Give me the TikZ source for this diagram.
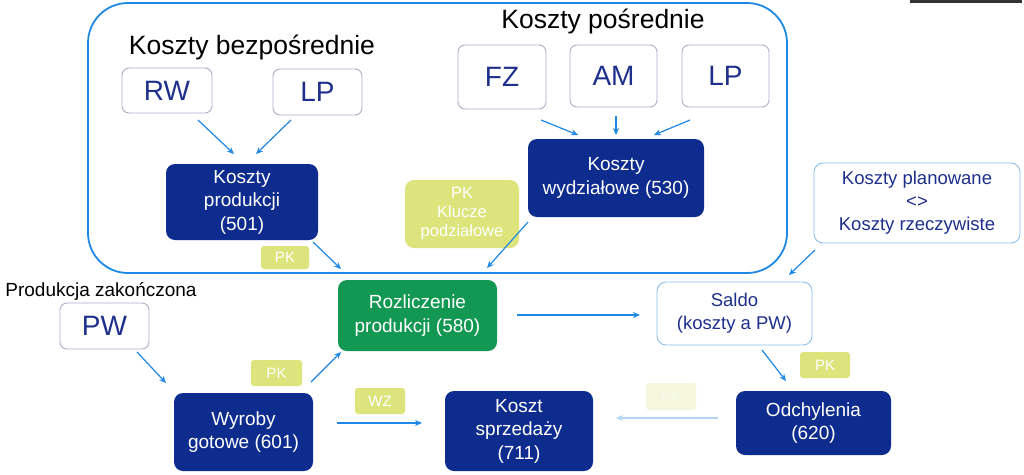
\documentclass[tikz,border=0pt]{standalone}
\usepackage{fontspec}
\setmainfont{Liberation Sans}
\usetikzlibrary{arrows.meta}
\definecolor{navy}{RGB}{14,44,142}
\definecolor{navytext}{RGB}{30,48,140}
\definecolor{green580}{RGB}{18,152,82}
\definecolor{ylw}{RGB}{221,228,124}
\definecolor{ylwfade}{RGB}{244,247,220}
\definecolor{lineblue}{RGB}{30,136,229}
\definecolor{fadeblue}{RGB}{180,212,242}
\definecolor{boxgrey}{RGB}{170,174,200}
\definecolor{lightborder}{RGB}{140,192,236}
\tikzset{
  letterbox/.style={draw=boxgrey, line width=0.9pt, rounded corners=7pt, fill=white, text=navytext,
    font=\fontsize{28}{30}\selectfont, inner sep=0pt},
  navybox/.style={fill=navy, rounded corners=9pt, text=white, align=center,
    font=\fontsize{19}{23.5}\selectfont, inner sep=0pt},
  greenbox/.style={fill=green580, rounded corners=9pt, text=white, align=center,
    font=\fontsize{19}{24}\selectfont, inner sep=0pt},
  whitebox/.style={draw=lightborder, line width=0.9pt, fill=white, rounded corners=9pt, text=navytext, align=center,
    font=\fontsize{18.5}{23}\selectfont, inner sep=0pt},
  tag/.style={fill=ylw, rounded corners=3pt, text=white, align=center,
    font=\fontsize{15}{18}\selectfont, inner sep=0pt},
  title/.style={text=black, inner sep=0pt},
  arr/.style={draw=lineblue, line width=1.2pt, -{Stealth[length=7pt,width=6pt]}},
}
\begin{document}
\begin{tikzpicture}[x=1pt,y=-1pt]
\useasboundingbox (0,0) rectangle (1024,474);
\fill[white] (0,0) rectangle (1024,474);
% top-right dark bar (screen artefact)
\fill[black!80] (910,0) rectangle (1022,3);
% big group frame
\draw[lineblue, line width=1.8pt, rounded corners=40pt] (88,3) rectangle (787,273);

\node[title, font=\fontsize{26.5}{28}\selectfont] (tbez) at (252,47) {Koszty bezpośrednie};
\node[title, font=\fontsize{26.5}{28}\selectfont] (tpos) at (603,21) {Koszty pośrednie};
\node[title, font=\fontsize{19}{21}\selectfont] (tprod) at (101,291) {Produkcja zakończona};

\node[letterbox, minimum width=90pt, minimum height=45pt] (rw) at (167,90.5) {RW};
\node[letterbox, minimum width=89pt, minimum height=46pt] (lp) at (317.5,92) {LP};
\node[letterbox, minimum width=88pt, minimum height=64pt] (fz) at (502,77) {FZ};
\node[letterbox, minimum width=87pt, minimum height=62pt] (am) at (613.5,76) {AM};
\node[letterbox, minimum width=87pt, minimum height=62pt] (lp2) at (725.5,76) {LP};
\node[letterbox, minimum width=89pt, minimum height=46pt] (pw) at (104.5,326) {PW};

\node[navybox, minimum width=152pt, minimum height=76pt] (k501) at (242,202) {Koszty\\produkcji\\(501)};
\node[navybox, minimum width=176pt, minimum height=78pt] (k530) at (616,178) {Koszty\\wydziałowe (530)};
\node[greenbox, minimum width=159pt, minimum height=71pt] (k580) at (417.5,315.5) {Rozliczenie\\produkcji (580)};
\node[navybox, minimum width=139pt, minimum height=78pt] (k601) at (243.5,432) {Wyroby\\gotowe (601)};
\node[navybox, minimum width=148pt, minimum height=80pt] (k711) at (519,431) {Koszt\\sprzedaży\\(711)};
\node[navybox, minimum width=155pt, minimum height=64pt] (k620) at (813.5,423) {Odchylenia\\(620)};

\node[whitebox, minimum width=206pt, minimum height=80pt] (plan) at (917,203) {Koszty planowane\\<>\\Koszty rzeczywiste};
\node[whitebox, minimum width=155pt, minimum height=63pt] (saldo) at (734.5,313.5) {Saldo\\(koszty a PW)};

\node[tag, minimum width=114pt, minimum height=68pt, rounded corners=9pt, font=\fontsize{16.5}{19}\selectfont] (klucze) at (462,214) {PK\\Klucze\\podziałowe};
\node[tag, minimum width=48pt, minimum height=23pt] (pk1) at (285,257.5) {PK};
\node[tag, minimum width=51pt, minimum height=26pt] (pk2) at (276.5,373) {PK};
\node[tag, minimum width=50pt, minimum height=26pt] (wz) at (380,401) {WZ};
\node[tag, minimum width=50pt, minimum height=26pt] (pk3) at (825,365) {PK};
\node[tag, fill=ylwfade, text=ylwfade!60!white, minimum width=50pt, minimum height=27pt] (pk4) at (671,396.5) {PK};

% connector end points
\coordinate (a1s) at (198,120); \coordinate (a1e) at (234,154);
\coordinate (a2s) at (291,120); \coordinate (a2e) at (256,154);
\coordinate (a3s) at (541,120); \coordinate (a3e) at (578,135);
\coordinate (a4s) at (616,116); \coordinate (a4e) at (616,135);
\coordinate (a5s) at (690,120); \coordinate (a5e) at (654,135);
\coordinate (a6s) at (313,242); \coordinate (a6e) at (341,269);
\coordinate (a7s) at (528,222); \coordinate (a7e) at (487,268);
\coordinate (a8s) at (815,250); \coordinate (a8e) at (789,275);
\coordinate (a9s) at (517,315); \coordinate (a9e) at (640,315);
\coordinate (a10s) at (762,350); \coordinate (a10e) at (786,381);
\coordinate (a11s) at (718,418); \coordinate (a11e) at (616,418);
\coordinate (a12s) at (137,352); \coordinate (a12e) at (166,383);
\coordinate (a13s) at (311,382); \coordinate (a13e) at (341,352);
\coordinate (a14s) at (337,423); \coordinate (a14e) at (422,423);

\draw[arr] (a1s) -- (a1e);
\draw[arr] (a2s) -- (a2e);
\draw[arr] (a3s) -- (a3e);
\draw[arr] (a4s) -- (a4e);
\draw[arr] (a5s) -- (a5e);
\draw[arr] (a6s) -- (a6e);
\draw[arr] (a7s) -- (a7e);
\draw[arr] (a8s) -- (a8e);
\draw[arr] (a9s) -- (a9e);
\draw[arr] (a10s) -- (a10e);
\draw[arr, draw=fadeblue] (a11s) -- (a11e);
\draw[arr] (a12s) -- (a12e);
\draw[arr] (a13s) -- (a13e);
\draw[arr] (a14s) -- (a14e);
\end{tikzpicture}
\end{document}
